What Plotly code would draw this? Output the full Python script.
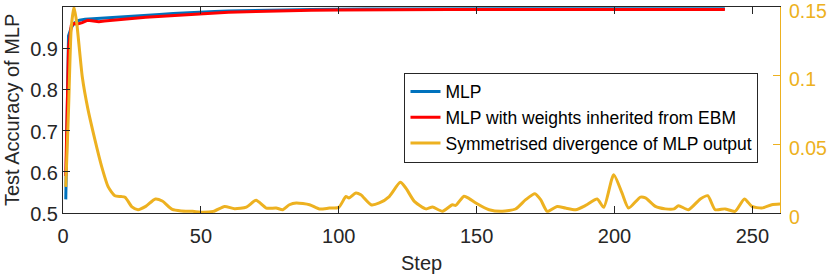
import plotly.graph_objects as go

# ---- data ----
mlp_steps = [1, 2, 3, 4, 5, 6, 8, 10, 13, 16, 20, 25, 30, 35, 40, 45, 50, 55, 60, 70, 80, 90, 100, 110, 120, 140, 160, 180, 200, 220, 240]
mlp_acc = [0.533, 0.93, 0.95, 0.96, 0.965, 0.968, 0.970, 0.971, 0.972, 0.973, 0.976, 0.978, 0.980, 0.982, 0.984, 0.986, 0.988, 0.989, 0.990, 0.992, 0.993, 0.994, 0.995, 0.995, 0.995, 0.996, 0.996, 0.996, 0.996, 0.996, 0.996]

ebm_steps = [1, 2, 3, 4, 5, 7, 9, 11, 13, 15, 18, 21, 25, 30, 35, 40, 45, 50, 60, 70, 80, 90, 100, 120, 140, 160, 180, 200, 220, 240]
ebm_acc = [0.59, 0.90, 0.955, 0.960, 0.958, 0.962, 0.968, 0.966, 0.964, 0.966, 0.968, 0.971, 0.972, 0.975, 0.977, 0.979, 0.982, 0.984, 0.987, 0.989, 0.991, 0.992, 0.993, 0.994, 0.994, 0.994, 0.994, 0.994, 0.994, 0.994]

div_steps = [1, 2, 3, 4, 5, 7, 9, 11.5, 14, 16.4, 18.8, 21, 22.5, 25, 27.2, 30, 33.5, 36, 39.6, 43, 47, 50,
             54.5, 58.6, 62.2, 66.5, 70, 73.7, 77.3, 79.7, 82.1, 84.6, 89.4, 93, 96.6, 100, 102.6, 103.7,
             106.2, 108, 111.7, 114.7, 118.3, 122.3, 124.3, 127.4, 131.6, 134, 137.6, 141.2, 142.4, 145.4,
             147.3, 149.7, 154.5, 159.3, 164.1, 167.8, 171.1, 173.2, 175.6, 179.2, 182.2, 185.9, 189.5,
             193.7, 196.1, 199.7, 202.7, 205.1, 209.4, 211.2, 214.8, 218.4, 221.6, 223.2, 226.8, 231.1,
             233.8, 236.5, 240.1, 243.7, 247.1, 249.8, 253.4, 257, 260]
div_vals = [0.019, 0.075, 0.135, 0.15, 0.138, 0.099, 0.076, 0.054, 0.034, 0.019, 0.0126, 0.012, 0.0115, 0.0045,
            0.0024, 0.0048, 0.0102, 0.0087, 0.0026, 0.0015, 0.0012, 0.0006, 0.0012, 0.0048, 0.0031, 0.0043,
            0.0092, 0.0036, 0.0036, 0.0024, 0.006, 0.0073, 0.006, 0.0029, 0.0036, 0.0041, 0.012, 0.011,
            0.0146, 0.0133, 0.006, 0.0073, 0.012, 0.0223, 0.0182, 0.0085, 0.003, 0.0043, 0.0012, 0.006,
            0.0055, 0.0122, 0.0105, 0.0073, 0.0024, 0.0012, 0.0029, 0.0097, 0.014, 0.0097, 0.0012, 0.0048,
            0.0036, 0.0024, 0.0055, 0.0102, 0.0041, 0.0279, 0.0146, 0.0036, 0.0116, 0.011, 0.0048, 0.003,
            0.003, 0.0053, 0.0024, 0.0102, 0.0126, 0.0024, 0.003, 0.0012, 0.0102, 0.0048, 0.0036, 0.006, 0.0065]

x_ticks = [0, 50, 100, 150, 200, 250]
y_ticks = [0.5, 0.6, 0.7, 0.8, 0.9]
y2_ticks = [0, 0.05, 0.1, 0.15]
y2_labels = ["0", "0.05", "0.1", "0.15"]

names = ["MLP", "MLP with weights inherited from EBM", "Symmetrised divergence of MLP output"]
colors = ["#0072BD", "#FF0000", "#EDB120"]
x_title = "Step"
y_title = "Test Accuracy of MLP"

AX = "#262626"
FONT = "Liberation Sans, Arial, Helvetica, sans-serif"

fig = go.Figure()
fig.add_trace(go.Scatter(x=mlp_steps, y=mlp_acc, mode="lines", name=names[0],
                         line=dict(color=colors[0], width=3)))
fig.add_trace(go.Scatter(x=ebm_steps, y=ebm_acc, mode="lines", name=names[1],
                         line=dict(color=colors[1], width=3)))
fig.add_trace(go.Scatter(x=div_steps, y=div_vals, mode="lines", name=names[2], yaxis="y2",
                         line=dict(color=colors[2], width=3, shape="spline", smoothing=0.6)))

fig.update_layout(
    width=830, height=276,
    margin=dict(l=63, r=50, t=7, b=63, autoexpand=False),
    plot_bgcolor="white", paper_bgcolor="white",
    font=dict(family=FONT, size=20, color=AX),
    showlegend=True,
    legend=dict(x=0.97, y=0.681, xanchor="right", yanchor="top",
                bgcolor="white", bordercolor=AX, borderwidth=1,
                font=dict(size=17.5, color="#000000"), tracegroupgap=0),
    xaxis=dict(range=[0, 260], tickvals=x_ticks, showgrid=False, zeroline=False,
               showline=True, linecolor=AX, linewidth=1, mirror="ticks",
               ticks="inside", ticklen=7, tickcolor=AX, automargin=False,
               ticklabelstandoff=5, ticklabeloverflow="allow"),
    yaxis=dict(range=[0.5, 1.0], tickvals=y_ticks, showgrid=False, zeroline=False,
               showline=True, linecolor=AX, linewidth=1,
               ticks="inside", ticklen=7, tickcolor=AX, automargin=False,
               ticklabeloverflow="allow", ticklabelshift=1),
    yaxis2=dict(range=[0, 0.15], tickvals=y2_ticks, ticktext=y2_labels, overlaying="y", side="right",
                showgrid=False, zeroline=False, showline=True, linecolor=colors[2], linewidth=1,
                ticks="inside", ticklen=7, tickcolor=colors[2], automargin=False,
                ticklabeloverflow="allow", ticklabelstandoff=4, ticklabelshift=4,
                tickfont=dict(color=colors[2], size=19.5)),
    annotations=[
        dict(text=y_title, xref="paper", yref="paper", x=0, y=0.5, xanchor="center", yanchor="middle",
             xshift=-51, textangle=-90, showarrow=False, font=dict(size=20, color=AX)),
        dict(text=x_title, xref="paper", yref="paper", x=0.5, y=0, xanchor="center", yanchor="middle",
             yshift=-50, showarrow=False, font=dict(size=20, color=AX)),
    ],
)

fig.write_html("out.html", config={"displayModeBar": False},
               post_script="document.body.style.margin='0';")
